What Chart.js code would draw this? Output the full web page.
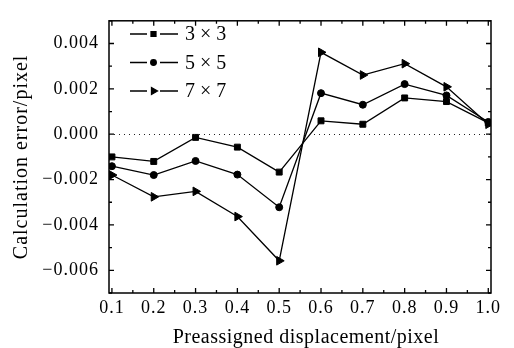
<!DOCTYPE html>
<html lang="en">
<head>
  <meta charset="UTF-8" />
  <title>Calculation error</title>
  <script src="https://cdn.jsdelivr.net/npm/chart.js"></script>
  <style>
    html, body { margin: 0; padding: 0; background: #fff; overflow: hidden; }
  </style>
</head>
<body>
  <canvas id="errChart" width="514" height="348"></canvas>

  <script>
    // data
    const displacement = [0.1, 0.2, 0.3, 0.4, 0.5, 0.6, 0.7, 0.8, 0.9, 1.0];
    const win3 = [-0.0010, -0.0012, -0.00014, -0.00057, -0.00167, 0.00059, 0.00044, 0.0016, 0.00144, 0.0005];
    const win5 = [-0.00141, -0.0018, -0.00118, -0.00178, -0.00322, 0.00181, 0.0013, 0.00221, 0.00171, 0.00054];
    const win7 = [-0.0018, -0.00276, -0.00252, -0.00363, -0.00558, 0.00361, 0.00261, 0.00311, 0.00209, 0.00044];
    const seriesNames = ['3×3', '5×5', '7×7'];
    const xTicks = [0.1, 0.2, 0.3, 0.4, 0.5, 0.6, 0.7, 0.8, 0.9, 1.0];
    const yTicks = [-0.006, -0.004, -0.002, 0.000, 0.002, 0.004];

    const serif = "'Liberation Serif', 'Times New Roman', serif";
    const toPts = vals => vals.map((v, i) => ({x: displacement[i], y: v}));

    function makeSet(label, vals, style, radius, rotation, legendRadius) {
      return {
        label: label,
        data: toPts(vals),
        borderColor: '#000',
        backgroundColor: '#000',
        borderWidth: 1.3,
        pointStyle: style,
        pointRadius: radius,
        pointRotation: rotation,
        pointBorderWidth: 1,
        legendRadius: legendRadius,
        tension: 0
      };
    }

    // frame, inward ticks, dotted zero line, legend, x title
    const decor = {
      id: 'decor',
      beforeDraw(chart) {
        // the original lettering is a bit wider than Liberation Serif
        chart.ctx.letterSpacing = '1px';
      },
      afterDraw(chart) {
        const ctx = chart.ctx;
        const a = chart.chartArea;
        const xs = chart.scales.x, ys = chart.scales.y;
        ctx.save();
        ctx.letterSpacing = '0px';

        // zero line
        ctx.strokeStyle = '#222';
        ctx.lineWidth = 1;
        ctx.setLineDash([1, 4]);
        const y0 = Math.round(ys.getPixelForValue(0)) + 0.5;
        ctx.beginPath();
        ctx.moveTo(a.left, y0);
        ctx.lineTo(a.right, y0);
        ctx.stroke();
        ctx.setLineDash([]);

        // frame
        ctx.strokeStyle = '#000';
        ctx.lineWidth = 1.5;
        ctx.strokeRect(a.left, a.top, a.right - a.left, a.bottom - a.top);

        // ticks on all four sides
        ctx.lineWidth = 1.3;
        ctx.beginPath();
        xTicks.forEach((v, i) => {
          const px = xs.getPixelForValue(v);
          ctx.moveTo(px, a.bottom); ctx.lineTo(px, a.bottom - 5);
          ctx.moveTo(px, a.top); ctx.lineTo(px, a.top + 5);
          if (i < xTicks.length - 1) {
            const mx = xs.getPixelForValue((v + xTicks[i + 1]) / 2);
            ctx.moveTo(mx, a.bottom); ctx.lineTo(mx, a.bottom - 3);
            ctx.moveTo(mx, a.top); ctx.lineTo(mx, a.top + 3);
          }
        });
        for (let k = -7; k <= 5; k++) {
          const py = ys.getPixelForValue(k / 1000);
          const len = (k % 2 === 0) ? 5 : 3;
          ctx.moveTo(a.left, py); ctx.lineTo(a.left + len, py);
          ctx.moveTo(a.right, py); ctx.lineTo(a.right - len, py);
        }
        ctx.stroke();

        // legend
        ctx.font = '20px ' + serif;
        ctx.fillStyle = '#000';
        ctx.textBaseline = 'middle';
        ctx.textAlign = 'left';
        chart.data.datasets.forEach((ds, i) => {
          const ly = 34 + i * 28.5;
          ctx.lineWidth = 1.3;
          ctx.beginPath();
          ctx.moveTo(130, ly); ctx.lineTo(147, ly);
          ctx.moveTo(160, ly); ctx.lineTo(178, ly);
          ctx.stroke();
          Chart.helpers.drawPoint(ctx, {
            pointStyle: ds.pointStyle,
            radius: ds.legendRadius,
            rotation: ds.pointRotation,
            borderWidth: 1
          }, 153.5, ly);
          ctx.fillText(ds.label.replace('×', ' × '), 185, ly + 1);
        });

        // x axis title
        ctx.textAlign = 'center';
        ctx.textBaseline = 'alphabetic';
        ctx.letterSpacing = '0.5px';
        ctx.font = '20px ' + serif;
        ctx.fillText('Preassigned displacement/pixel', 306, 343);

        ctx.restore();
        ctx.letterSpacing = '0px';
      }
    };

    const fmt = v => {
      const s = Math.abs(v).toFixed(3);
      return v < -1e-9 ? '\u2212' + s : s;
    };

    new Chart(document.getElementById('errChart'), {
      type: 'line',
      data: {
        datasets: [
          makeSet(seriesNames[0], win3, 'rect', 4.2, 0, 3.5),
          makeSet(seriesNames[1], win5, 'circle', 3.5, 0, 2.8),
          makeSet(seriesNames[2], win7, 'triangle', 5, 90, 4)
        ]
      },
      options: {
        responsive: false,
        animation: false,
        devicePixelRatio: 1,
        layout: { padding: { left: 0, right: 23, top: 10, bottom: 0 } },
        plugins: { legend: { display: false }, tooltip: { enabled: false } },
        scales: {
          x: {
            type: 'linear',
            min: 0.093,
            max: 1.0065,
            afterBuildTicks: s => { s.ticks = xTicks.map(v => ({value: v})); },
            afterFit: s => { s.height = 55; },
            grid: { display: false, drawTicks: false },
            border: { display: false },
            ticks: {
              color: '#000',
              padding: 4,
              maxRotation: 0,
              autoSkip: false,
              font: { family: serif, size: 18 },
              callback: v => v.toFixed(1)
            },
            title: { display: false }
          },
          y: {
            min: -0.007,
            max: 0.005,
            afterBuildTicks: s => { s.ticks = yTicks.map(v => ({value: v})); },
            afterFit: s => { s.width = 109; },
            grid: { display: false, drawTicks: false },
            border: { display: false },
            ticks: {
              color: '#000',
              padding: 10,
              autoSkip: false,
              font: { family: serif, size: 18 },
              callback: v => fmt(v)
            },
            title: {
              display: true,
              text: 'Calculation error/pixel',
              color: '#000',
              font: { family: serif, size: 20 },
              padding: { top: 10, bottom: 0 }
            }
          }
        }
      },
      plugins: [decor]
    });
  </script>
</body>
</html>
